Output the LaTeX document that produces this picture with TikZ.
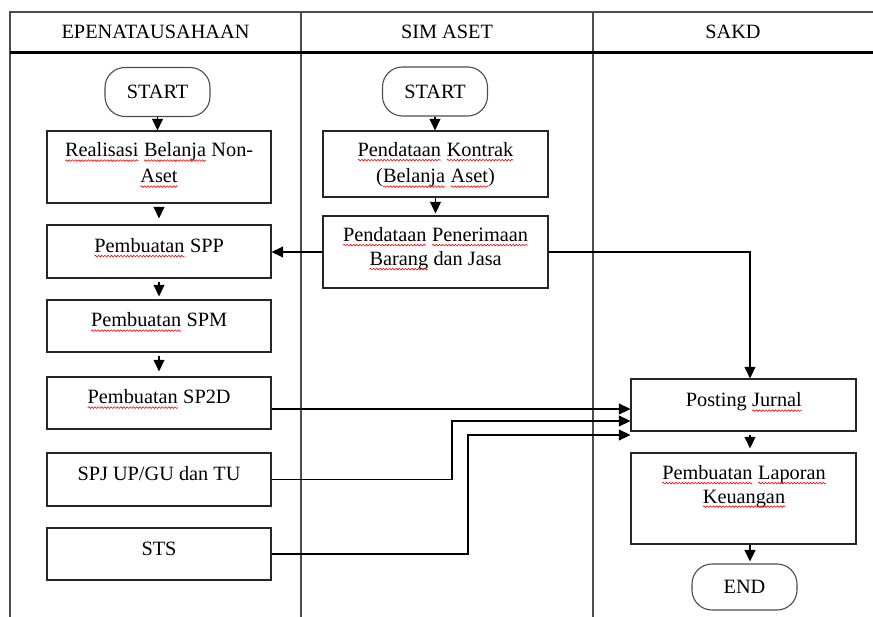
\documentclass[tikz,border=0pt]{standalone}
\usepackage{fontspec}
\setmainfont{Liberation Serif}
\usetikzlibrary{arrows.meta,decorations.pathmorphing}

% word with a red wavy underline
\newcommand\spl[1]{\tikz[baseline=(sw.base)]{%
  \node[inner sep=0pt,outer sep=0pt,anchor=base,draw=none] (sw) {#1};
  \draw[red,line width=0.6pt,decorate,decoration={snake,amplitude=0.8pt,segment length=3.2pt}]
    ([yshift=-3.6pt]sw.base west) -- ([yshift=-3.6pt]sw.base east);}}

\tikzset{
  lane/.style={draw=black!70,line width=1.2pt},
  headline/.style={draw=black,line width=3pt},
  box/.style={draw=black!85,line width=1.3pt,rectangle,inner sep=0pt},
  term/.style={draw=black!70,line width=1.1pt,rectangle,rounded corners=20pt,inner sep=0pt,
    minimum width=105pt,minimum height=49pt,font=\fontsize{20.3}{24}\selectfont},
  txt/.style={inner sep=0pt,anchor=base,font=\fontsize{20.3}{24}\selectfont},
  arr/.style={draw=black,line width=1.2pt,-{Triangle[length=11.5pt,width=11pt]}},
}

\begin{document}
\begin{tikzpicture}[x=1pt,y=-1pt]
\useasboundingbox (0,0) rectangle (873,617);

% swimlane frame
\draw[lane] (10,617) -- (10,12) -- (873,12);
\draw[lane] (301,12) -- (301,617);
\draw[lane] (593,12) -- (593,617);
\draw[headline] (10,52.5) -- (873,52.5);

\node[txt] (h1) at (155.5,39) {EPENATAUSAHAAN};
\node[txt] (h2) at (447,39) {SIM ASET};
\node[txt] (h3) at (733,39) {SAKD};

% EPENATAUSAHAAN lane
\node[term] (start1) at (157.5,92) {START};
\node[box,minimum width=224pt,minimum height=72pt] (real) at (159,167) {};
\node[box,minimum width=224pt,minimum height=53pt] (spp) at (159,251.5) {};
\node[box,minimum width=224pt,minimum height=52pt] (spm) at (159,326) {};
\node[box,minimum width=224pt,minimum height=52pt] (sp2d) at (159,403) {};
\node[box,minimum width=224pt,minimum height=53pt] (spj) at (159,479.5) {};
\node[box,minimum width=224pt,minimum height=52pt] (sts) at (159,554) {};

\node[txt] (realA) at (159,157) {\spl{Realisasi} \spl{Belanja} Non-};
\node[txt] (realB) at (159,183) {\spl{Aset}};
\node[txt] (sppT) at (159,252.5) {\spl{Pembuatan} SPP};
\node[txt] (spmT) at (159,327) {\spl{Pembuatan} SPM};
\node[txt] (sp2dT) at (159,404) {\spl{Pembuatan} SP2D};
\node[txt] (spjT) at (159,480.5) {SPJ UP/GU dan TU};
\node[txt] (stsT) at (159,555) {STS};

% SIM ASET lane
\node[term] (start2) at (435,91.5) {START};
\node[box,minimum width=225pt,minimum height=66pt] (kont) at (435.5,164) {};
\node[box,minimum width=225pt,minimum height=72pt] (pen) at (435.5,252) {};

\node[txt] (kontA) at (435.5,156.5) {\spl{Pendataan} \spl{Kontrak}};
\node[txt] (kontB) at (435.5,183) {(\spl{Belanja} \spl{Aset})};
\node[txt] (penA) at (435.5,241.5) {\spl{Pendataan} \spl{Penerimaan}};
\node[txt] (penB) at (435.5,265.5) {\spl{Barang} dan Jasa};

% SAKD lane
\node[box,minimum width=225pt,minimum height=52pt] (post) at (743.5,405) {};
\node[box,minimum width=225pt,minimum height=91pt] (lap) at (743.5,498.5) {};
\node[term,minimum height=46pt] (end) at (744.5,587) {END};

\node[txt] (postT) at (744,407) {Posting \spl{Jurnal}};
\node[txt] (lapA) at (744,479.5) {\spl{Pembuatan} \spl{Laporan}};
\node[txt] (lapB) at (744,503) {\spl{Keuangan}};

% connector rails
\coordinate (ax) at (750,0);
\coordinate (r1) at (0,409);
\coordinate (r2) at (0,421);
\coordinate (r3) at (0,435);
\coordinate (v2) at (452,0);
\coordinate (v3) at (468,0);

% flow arrows, left lane
\draw[arr] (start1.south) -- (start1.south |- real.north);
\draw[arr,shorten <=3pt,shorten >=6pt] (real.south) -- (spp.north);
\draw[arr,shorten <=3pt,shorten >=3pt] (spp.south) -- (spm.north);
\draw[arr,shorten <=3pt,shorten >=5pt] (spm.south) -- (sp2d.north);

% flow arrows, middle lane
\draw[arr] (start2.south) -- (start2.south |- kont.north);
\draw[arr,shorten >=2pt] (kont.south) -- (pen.north);
\draw[arr] (pen.west) -- (spp.east |- pen.west);
\draw[arr] (pen.east) -| (post.north -| ax);

% flow arrows into Posting Jurnal
\draw[arr] (sp2d.east |- r1) -- (post.west |- r1);
\draw[arr] (spj.east) -| (v2 |- r2) -- (post.west |- r2);
\draw[arr] (sts.east) -| (v3 |- r3) -- (post.west |- r3);

% flow arrows, right lane
\draw[arr,shorten <=3pt,shorten >=4pt] (post.south -| ax) -- (lap.north -| ax);
\draw[arr,shorten >=2pt] (lap.south -| ax) -- (end.north -| ax);
\end{tikzpicture}
\end{document}
